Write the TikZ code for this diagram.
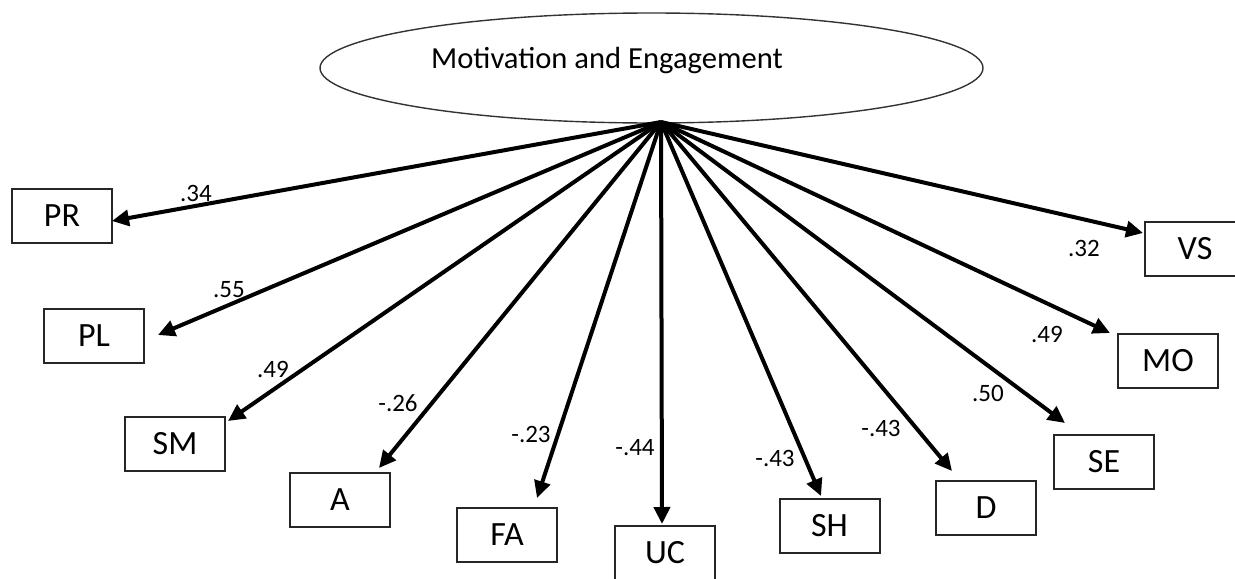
\documentclass[tikz,border=0pt]{standalone}
\usepackage{fontspec}
\setmainfont{Carlito}
\usetikzlibrary{arrows.meta,shapes.geometric}
\begin{document}
\begin{tikzpicture}[x=0.5pt,y=-0.5pt,
  box/.style={draw=black!85, line width=1pt, minimum width=50pt, minimum height=27pt, inner sep=0pt, font=\fontsize{17}{19}\selectfont},
  lbl/.style={inner sep=0pt, font=\fontsize{12.5}{14}\selectfont},
  loadarrow/.style={line width=2pt, -{Triangle[length=8.5pt,width=8pt]}}
]
\useasboundingbox (0,0) rectangle (1235,578);
% latent factor
\node[draw=black!80, line width=0.7pt, ellipse, minimum width=331.5pt, minimum height=55pt, inner sep=0pt] (ME) at (651.5,68) {};
\node[anchor=base, inner sep=0pt, font=\fontsize{15.3}{18}\selectfont] (title) at (607,68) {Motivation and Engagement};
\coordinate (src) at (661,122);
% indicator boxes
\node[box] (PR) at (62,216) {PR};
\node[box] (PL) at (94,336) {PL};
\node[box] (SM) at (175,444) {SM};
\node[box] (A)  at (340,499.5) {A};
\node[box] (FA) at (507,535) {FA};
\node[box] (UC) at (665,553) {UC};
\node[box] (SH) at (829.5,526) {SH};
\node[box] (D)  at (986,507.5) {D};
\node[box] (SE) at (1104,462) {SE};
\node[box] (MO) at (1168,361) {MO};
\node[box] (VS) at (1195,249) {VS};
% arrow tips
\coordinate (tPR) at (112,221);
\coordinate (tPL) at (158,335);
\coordinate (tSM) at (228,421);
\coordinate (tA)  at (379,468);
\coordinate (tFA) at (537,498);
\coordinate (tUC) at (662,524);
\coordinate (tSH) at (821,496);
\coordinate (tD)  at (952,471);
\coordinate (tSE) at (1065,423);
\coordinate (tMO) at (1110,333);
\coordinate (tVS) at (1143,233);
\foreach \t in {tPR,tPL,tSM,tA,tFA,tUC,tSH,tD,tSE,tMO,tVS}
  \draw[loadarrow] (src) -- (\t);
% loadings
\node[lbl] (lPR) at (196,193) {.34};
\node[lbl] (lPL) at (229,290) {.55};
\node[lbl] (lSM) at (273,369) {.49};
\node[lbl] (lA)  at (398,403) {-.26};
\node[lbl] (lFA) at (531,434) {-.23};
\node[lbl] (lUC) at (635,448) {-.44};
\node[lbl] (lSH) at (775,458) {-.43};
\node[lbl] (lD)  at (881,428) {-.43};
\node[lbl] (lSE) at (988,393) {.50};
\node[lbl] (lMO) at (1047,334) {.49};
\node[lbl] (lVS) at (1084,248) {.32};
\end{tikzpicture}
\end{document}
